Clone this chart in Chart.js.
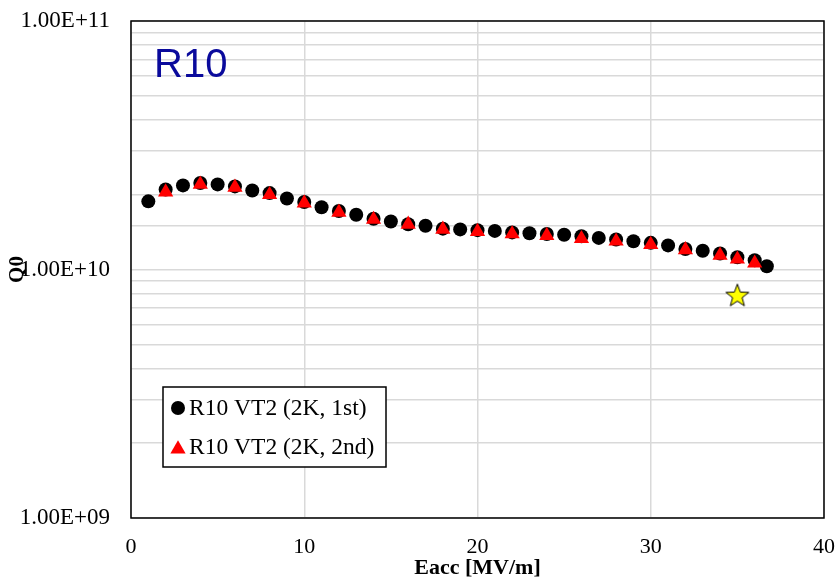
<!DOCTYPE html>
<html lang="en">
<head>
  <meta charset="UTF-8" />
  <title>R10 Q0 vs Eacc</title>
  <script src="https://cdn.jsdelivr.net/npm/chart.js"></script>
  <style>
    body {
      margin: 0;
      background: white;
    }

    .chart-box {
      width: 837px;
      height: 586px;
      position: relative;
    }
  </style>
</head>
<body>
  <div class="chart-box"><canvas id="chart-q0"></canvas></div>

  <script>
    // 1st test (black circles)
    const eacc1 = [1,2,3,4,5,6,7,8,9,10,11,12,13,14,15,16,17,18,19,20,21,22,23,24,25,26,27,28,29,30,31,32,33,34,35,36,36.7];
    const q0First = [1.88e10,2.10e10,2.18e10,2.23e10,2.20e10,2.16e10,2.08e10,2.03e10,1.93e10,1.87e10,1.78e10,1.72e10,1.66e10,1.60e10,1.56e10,1.52e10,1.50e10,1.46e10,1.45e10,1.44e10,1.43e10,1.41e10,1.40e10,1.39e10,1.38e10,1.36e10,1.34e10,1.32e10,1.30e10,1.28e10,1.25e10,1.21e10,1.19e10,1.16e10,1.12e10,1.09e10,1.03e10];

    // 2nd test (red triangles)
    const eacc2 = [2,4,6,8,10,12,14,16,18,20,22,24,26,28,30,32,34,35,36];
    const q0Second = [2.05e10,2.20e10,2.14e10,2.00e10,1.85e10,1.70e10,1.59e10,1.52e10,1.45e10,1.42e10,1.39e10,1.37e10,1.33e10,1.30e10,1.26e10,1.20e10,1.14e10,1.10e10,1.06e10];

    // star marker
    const eaccStar = [35];
    const q0Star = [7.85e9];

    const xTicks = [0, 10, 20, 30, 40];
    const legendLabels = ['R10 VT2 (2K, 1st)', 'R10 VT2 (2K, 2nd)'];

    const serif = '"Liberation Serif", "Times New Roman", serif';

    function toXY(xs, ys) {
      return xs.map((x, i) => ({ x: x, y: ys[i] }));
    }

    function noPad(s) {
      s.paddingTop = 0; s.paddingBottom = 0; s.paddingLeft = 0; s.paddingRight = 0;
    }

    // filled yellow star as point image
    function makeStar() {
      const c = document.createElement('canvas');
      c.width = 26; c.height = 26;
      const g = c.getContext('2d');
      g.beginPath();
      for (let i = 0; i < 10; i++) {
        const r = i % 2 === 0 ? 12 : 5;
        const a = -Math.PI / 2 + i * Math.PI / 5;
        const px = 13 + r * Math.cos(a), py = 13.5 + r * Math.sin(a);
        if (i === 0) g.moveTo(px, py); else g.lineTo(px, py);
      }
      g.closePath();
      g.fillStyle = '#FFFF00';
      g.fill();
      g.lineWidth = 1;
      g.strokeStyle = '#000';
      g.stroke();
      return c;
    }

    const framePlugin = {
      id: 'frame',
      beforeDatasetsDraw(chart) {
        const a = chart.chartArea, ctx = chart.ctx;
        ctx.save();
        ctx.strokeStyle = '#000';
        ctx.lineWidth = 1.5;
        ctx.strokeRect(a.left, a.top, a.right - a.left, a.bottom - a.top);
        ctx.restore();
      },
      afterDraw(chart) {
        const a = chart.chartArea, ctx = chart.ctx;
        ctx.save();
        // R10 label
        ctx.fillStyle = '#0A0A9C';
        ctx.font = '40px "Liberation Sans", Arial, sans-serif';
        ctx.textBaseline = 'alphabetic';
        ctx.fillText('R10', a.left + 23, 77);

        // legend box
        const lx = 163, ly = 387, lw = 223, lh = 80;
        ctx.fillStyle = '#fff';
        ctx.fillRect(lx, ly, lw, lh);
        ctx.strokeStyle = '#000';
        ctx.lineWidth = 1.5;
        ctx.strokeRect(lx, ly, lw, lh);

        const styles = [
          { pointStyle: 'circle', radius: 7, color: '#000' },
          { pointStyle: 'triangle', radius: 8.8, color: '#FF0000' }
        ];
        const rows = [408, 447];
        ctx.font = '23.5px ' + serif;
        ctx.textBaseline = 'middle';
        legendLabels.forEach((lbl, i) => {
          ctx.fillStyle = styles[i].color;
          Chart.helpers.drawPoint(ctx, { pointStyle: styles[i].pointStyle, radius: styles[i].radius, rotation: 0, borderWidth: 0 }, 178, rows[i] + (i === 1 ? 2 : 0));
          ctx.fillStyle = '#000';
          ctx.fillText(lbl, 189, rows[i] + 1);
        });
        ctx.restore();
      }
    };

    const chartQ0 = new Chart(document.getElementById('chart-q0').getContext('2d'), {
      type: 'scatter',
      data: {
        datasets: [
          {
            label: legendLabels[0],
            data: toXY(eacc1, q0First),
            pointStyle: 'circle',
            pointRadius: 7,
            pointHoverRadius: 7,
            backgroundColor: '#000',
            borderWidth: 0,
            order: 1
          },
          {
            label: legendLabels[1],
            data: toXY(eacc2, q0Second),
            pointStyle: 'triangle',
            pointRadius: 8.8,
            pointHoverRadius: 8.8,
            backgroundColor: '#FF0000',
            borderWidth: 0,
            order: 0
          },
          {
            label: 'star',
            data: toXY(eaccStar, q0Star),
            pointStyle: makeStar(),
            order: 2
          }
        ]
      },
      options: {
        responsive: true,
        maintainAspectRatio: false,
        animation: false,
        layout: { padding: { top: 21, right: 13, left: 0, bottom: 0 } },
        plugins: {
          legend: { display: false },
          tooltip: { enabled: false }
        },
        scales: {
          x: {
            type: 'linear',
            min: 0,
            max: 40,
            afterBuildTicks: s => { s.ticks = xTicks.map(v => ({ value: v })); },
            afterFit: s => { s.height = 68; noPad(s); },
            grid: { color: '#d9d9d9', lineWidth: 1.5, drawTicks: false },
            border: { display: false },
            ticks: {
              color: '#000',
              font: { family: serif, size: 22 },
              padding: 16,
              maxRotation: 0
            },
            title: {
              display: true,
              text: 'Eacc [MV/m]',
              color: '#000',
              font: { family: serif, size: 22, weight: 'bold', lineHeight: 1.2 },
              padding: { top: 0, bottom: 4 }
            }
          },
          y: {
            type: 'logarithmic',
            min: 1e9,
            max: 1e11,
            afterFit: s => { s.width = 131; noPad(s); },
            grid: { color: '#d9d9d9', lineWidth: 1.5, drawTicks: false },
            border: { display: false },
            ticks: {
              autoSkip: false,
              color: '#000',
              font: { family: serif, size: 23 },
              padding: 21,
              callback: v => {
                const e = Math.log10(v);
                if (Math.abs(e - Math.round(e)) < 1e-6) {
                  const n = Math.round(e);
                  return '1.00E' + (n < 0 ? '-' : '+') + String(Math.abs(n)).padStart(2, '0');
                }
                return '';
              }
            },
            title: {
              display: true,
              text: 'Q0',
              color: '#000',
              font: { family: serif, size: 21, weight: 'bold', lineHeight: 1.2 },
              padding: { top: 5, bottom: 0 }
            }
          }
        }
      },
      plugins: [framePlugin]
    });
  </script>
</body>
</html>
